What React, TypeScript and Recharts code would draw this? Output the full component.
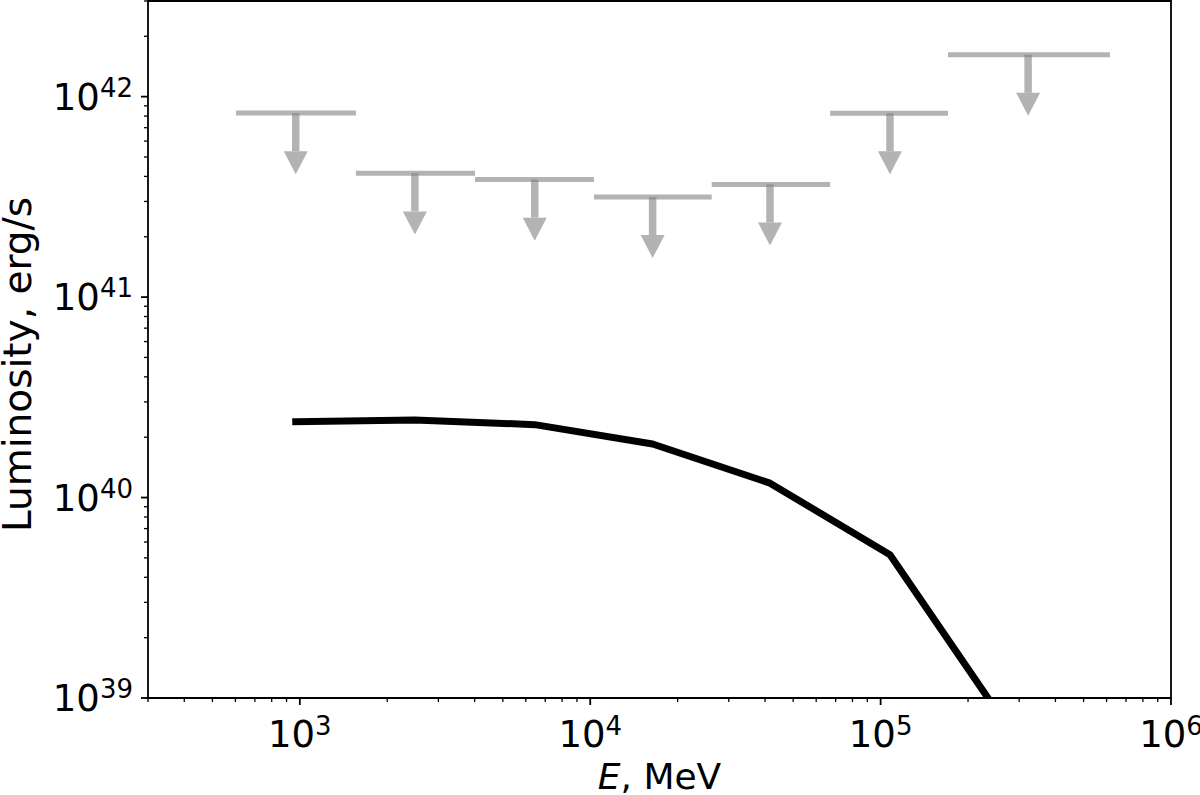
import React from "react";
import {
  ComposedChart,
  Line,
  Scatter,
  XAxis,
  YAxis,
  ReferenceLine,
  ReferenceArea,
  Label,
} from "recharts";

// upper limits (7 energy bins)
const binLow = [603, 1560, 4010, 10300, 26200, 67000, 170600];
const binHigh = [1560, 4010, 10300, 26200, 67000, 170600, 616600];
const binCenter = [968, 2490, 6440, 16400, 41600, 107700, 322100];
const upperLimits = [8.28e41, 4.15e41, 3.86e41, 3.16e41, 3.65e41, 8.27e41, 1.62e42];

// model curve
const modelE = [968, 2490, 6440, 16400, 41600, 107700, 322100];
const modelL = [2.39e40, 2.44e40, 2.31e40, 1.85e40, 1.18e40, 5.18e39, 5.1e38];

const xMajor = [1e3, 1e4, 1e5, 1e6];
const yMajor = [1e39, 1e40, 1e41, 1e42];

const X_DOMAIN = [300, 1e6];
const Y_DOMAIN = [1e39, 3e42];
const ARROW_BASE = 0.645; // shaft end / head base, as fraction of the limit

const FONT = "DejaVu Sans";
const GRAY = "#808080";

function minorTicks(majors: number[], lo: number, hi: number) {
  const out: number[] = [];
  for (const m of [majors[0] / 10, ...majors]) {
    for (let k = 2; k <= 9; k++) {
      const v = m * k;
      if (v >= lo && v <= hi) out.push(v);
    }
  }
  return out;
}

const xTicks = [...xMajor, ...minorTicks(xMajor, X_DOMAIN[0], X_DOMAIN[1])].sort((a, b) => a - b);
const yTicks = [...yMajor, ...minorTicks(yMajor, Y_DOMAIN[0], Y_DOMAIN[1])].sort((a, b) => a - b);

const isMajor = (v: number) => {
  const l = Math.log10(v);
  return Math.abs(l - Math.round(l)) < 1e-9;
};

const XTick = (props: any) => {
  const { x, y, payload } = props;
  const v = payload.value;
  const major = isMajor(v);
  return (
    <g>
      <line x1={x} x2={x} y1={y} y2={y + (major ? 7 : 4)} stroke="#000" strokeWidth={major ? 1.8 : 1.3} />
      {major && (
        <text x={x} y={y + 49} textAnchor="middle" fontFamily={FONT} fontSize={37} fill="#000">
          10
          <tspan dy={-12} fontSize={26}>
            {Math.round(Math.log10(v))}
          </tspan>
        </text>
      )}
    </g>
  );
};

const YTick = (props: any) => {
  const { x, y, payload } = props;
  const v = payload.value;
  const major = isMajor(v);
  return (
    <g>
      <line x1={x} x2={x - (major ? 7 : 4)} y1={y} y2={y} stroke="#000" strokeWidth={major ? 1.8 : 1.3} />
      {major && (
        <text x={x - 15} y={y + 13} textAnchor="end" fontFamily={FONT} fontSize={37} fill="#000">
          10
          <tspan dy={-13} fontSize={26}>
            {Math.round(Math.log10(v))}
          </tspan>
        </text>
      )}
    </g>
  );
};

const XTitle = (props: any) => {
  const { x, y, width } = props.viewBox;
  return (
    <text x={x + width / 2} y={y + 91} textAnchor="middle" fontFamily={FONT} fontSize={36} fill="#000">
      <tspan fontStyle="italic">E</tspan>, MeV
    </text>
  );
};

const YTitle = (props: any) => {
  const { y, height } = props.viewBox;
  return (
    <text
      transform={`translate(31, ${y + height / 2 + 15}) rotate(-90)`}
      textAnchor="middle"
      fontFamily={FONT}
      fontSize={39}
      fill="#000"
    >
      Luminosity, erg/s
    </text>
  );
};

const ArrowHead = (props: any) => {
  const { cx, cy } = props;
  return <polygon points={`${cx - 12},${cy} ${cx + 12},${cy} ${cx},${cy + 23}`} fill="#b3b3b3" />;
};

const modelData = modelE.map((e, i) => ({ e, lum: modelL[i] }));
const headData = binCenter.map((e, i) => ({ e, base: upperLimits[i] * ARROW_BASE }));

export default function App() {
  return (
    <div style={{ position: "absolute", left: 0, top: 0, background: "#fff" }}>
      <ComposedChart width={1200} height={795} margin={{ top: 1, right: 29, left: 0, bottom: 0 }}>
        <XAxis
          dataKey="e"
          type="number"
          scale="log"
          domain={X_DOMAIN}
          allowDataOverflow
          ticks={xTicks}
          interval={0}
          tick={<XTick />}
          tickLine={false}
          axisLine={false}
          tickSize={0}
          tickMargin={0}
          height={97}
        >
          <Label content={<XTitle />} />
        </XAxis>
        <YAxis
          type="number"
          scale="log"
          domain={Y_DOMAIN}
          allowDataOverflow
          ticks={yTicks}
          interval={0}
          tick={<YTick />}
          tickLine={false}
          axisLine={false}
          tickSize={0}
          tickMargin={0}
          width={148}
        >
          <Label content={<YTitle />} />
        </YAxis>

        {binCenter.map((e, i) => (
          <ReferenceLine
            key={`h${i}`}
            segment={[
              { x: binLow[i], y: upperLimits[i] },
              { x: binHigh[i], y: upperLimits[i] },
            ]}
            stroke={GRAY}
            strokeOpacity={0.6}
            strokeWidth={5}
          />
        ))}
        {binCenter.map((e, i) => (
          <ReferenceLine
            key={`v${i}`}
            segment={[
              { x: e, y: upperLimits[i] },
              { x: e, y: upperLimits[i] * ARROW_BASE },
            ]}
            stroke={GRAY}
            strokeOpacity={0.6}
            strokeWidth={7.5}
          />
        ))}
        <Scatter data={headData} dataKey="base" shape={<ArrowHead />} isAnimationActive={false} />

        <Line
          data={modelData}
          dataKey="lum"
          type="linear"
          stroke="#000"
          strokeWidth={7}
          strokeLinecap="square"
          strokeLinejoin="round"
          dot={false}
          activeDot={false}
          isAnimationActive={false}
        />

        <ReferenceArea
          x1={X_DOMAIN[0]}
          x2={X_DOMAIN[1]}
          y1={Y_DOMAIN[0]}
          y2={Y_DOMAIN[1]}
          fill="none"
          stroke="#000"
          strokeWidth={1.8}
        />
      </ComposedChart>
    </div>
  );
}
